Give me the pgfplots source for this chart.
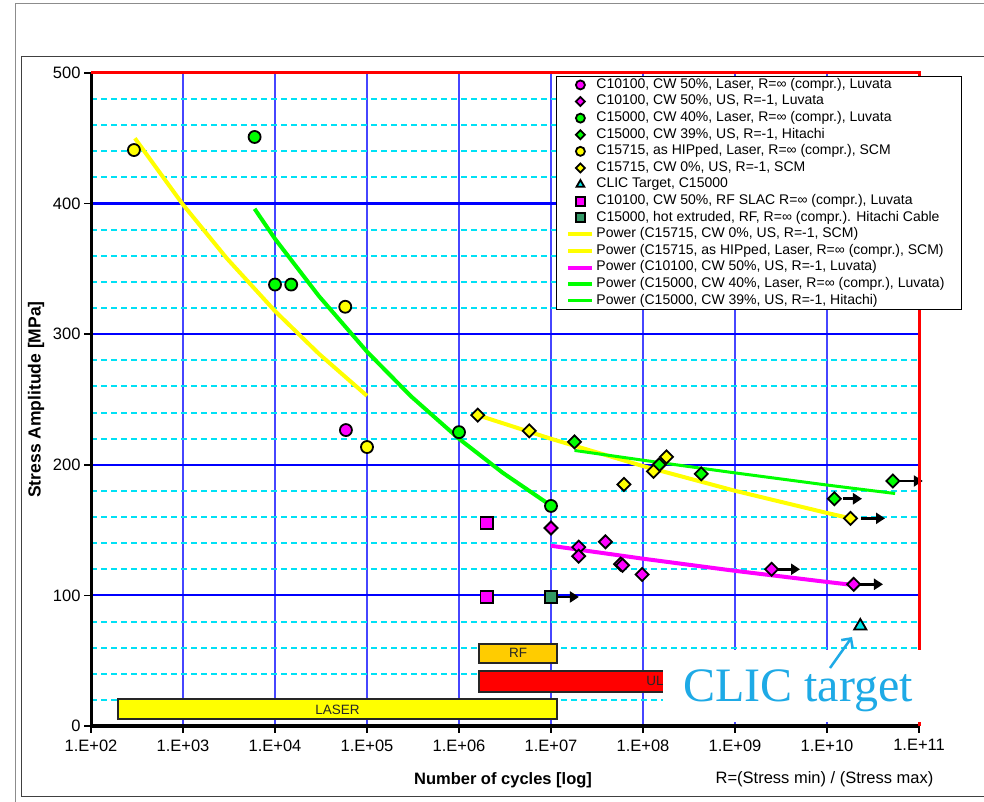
\documentclass[border=0pt]{standalone}
\usepackage{fontspec}
\setmainfont{Liberation Sans}
\newfontfamily\seriffont{Liberation Serif}
\usepackage{pgfplots}
\pgfplotsset{compat=1.18}
\usetikzlibrary{arrows.meta}
\definecolor{mag}{RGB}{255,0,255}
\definecolor{grn}{RGB}{0,255,0}
\definecolor{yel}{RGB}{255,255,0}
\definecolor{tealsq}{RGB}{51,153,102}
\definecolor{cyn}{RGB}{0,230,230}
\definecolor{orng}{RGB}{255,204,0}
\definecolor{sky}{RGB}{30,170,230}
\definecolor{hgrid}{RGB}{0,0,255}
\definecolor{vgrid}{RGB}{70,70,255}
\definecolor{mgrid}{RGB}{0,225,245}
\pgfdeclareplotmark{dmd}{%
  \pgfpathmoveto{\pgfqpoint{0pt}{\pgfplotmarksize}}%
  \pgfpathlineto{\pgfqpoint{\pgfplotmarksize}{0pt}}%
  \pgfpathlineto{\pgfqpoint{0pt}{-\pgfplotmarksize}}%
  \pgfpathlineto{\pgfqpoint{-\pgfplotmarksize}{0pt}}%
  \pgfpathclose\pgfusepathqfillstroke}
\pgfplotsset{
  mk/.style={only marks, mark options={solid, draw=black, line width=1.8pt, fill=#1},
    legend image code/.code={\draw[mark repeat=2,mark phase=2,##1] plot coordinates {(0pt,0pt) (12pt,0pt) (24pt,0pt)};}},
  ln/.style={no marks, line width=#1,
    legend image code/.code={\draw[##1] (0pt,0pt) -- (24pt,0pt);}},
  runout/.style={forget plot, black, line width=2.8pt, -{Triangle[length=9pt,width=11pt]}},
  barbox/.style={forget plot, draw=black!85, line width=1.5pt, fill=#1},
}
\begin{document}
\begin{tikzpicture}
\useasboundingbox (0,0) rectangle (984pt,802pt);
\fill[white] (0,0) rectangle (984pt,802pt);
% frames
\draw[black!45, line width=1pt] (15pt,-2pt) -- (15pt,798pt) -- (990pt,798pt);
\draw[black!75, line width=1pt] (990pt,745pt) -- (21pt,745pt) -- (21pt,5pt) -- (990pt,5pt);
\begin{axis}[
  at={(91pt,76pt)}, anchor=south west, scale only axis,
  width=828pt, height=653pt,
  xmode=log, xmin=1e2, xmax=1e11, ymin=0, ymax=500, clip=false,
  axis line style={draw=none},
  xtick={1e2,1e3,1e4,1e5,1e6,1e7,1e8,1e9,1e10,1e11},
  xticklabels={1.E+02,1.E+03,1.E+04,1.E+05,1.E+06,1.E+07,1.E+08,1.E+09,1.E+10,1.E+11},
  ytick={0,100,200,300,400,500},
  minor xtick={}, minor ytick={},
  extra y ticks={20,40,60,80,120,140,160,180,220,240,260,280,320,340,360,380,420,440,460,480},
  extra y tick labels={},
  extra y tick style={grid=major, major y grid style={mgrid, line width=2pt, dash pattern=on 6pt off 4pt}, major tick length=0pt},
  xmajorgrids, ymajorgrids,
  major x grid style={vgrid, line width=1.2pt},
  major y grid style={hgrid, line width=2.2pt},
  tick pos=left, tick align=outside, major tick length=7pt, minor tick length=0pt,
  every tick/.style={black, line width=1.5pt},
  tick label style={font=\fontsize{16.5}{18}\selectfont},
  xticklabel style={yshift=-3pt},
  /pgf/number format/assume math mode=true,
  xlabel={\bfseries Number of cycles [log]},
  ylabel={\bfseries Stress Amplitude [MPa]},
  every axis x label/.style={at={(rel axis cs:0.4976,-0.0827)}, anchor=center, font=\fontsize{16.5}{18}\selectfont},
  every axis y label/.style={at={(rel axis cs:-0.0664,0.5)}, anchor=center, rotate=90, font=\fontsize{17.5}{19}\selectfont},
  legend cell align=left,
  legend image post style={mark size=4.5pt},
  legend style={at={(rel axis cs:0.5616,0.9954)}, anchor=north west, draw=black, line width=0.8pt,
    fill=white, font=\fontsize{14}{15}\selectfont, inner xsep=10pt, inner ysep=2pt, row sep=3.5pt,
    nodes={inner xsep=2pt, inner ysep=0pt, text height=9.9pt, text depth=3.2pt}, cells={anchor=west}},
]
% bars
\addplot[barbox=yel] coordinates {(196,5.4) (1.16e7,5.4) (1.16e7,20.7) (196,20.7)} -- cycle;
\addplot[barbox=orng] coordinates {(1.65e6,48.2) (1.16e7,48.2) (1.16e7,62.8) (1.65e6,62.8)} -- cycle;
\addplot[barbox=red] coordinates {(1.65e6,26.0) (1.1e10,26.0) (1.1e10,42.1) (1.65e6,42.1)} -- cycle;
\node[font=\fontsize{13.5}{14}\selectfont, text=black!85] at (axis cs:4.77e4,12.6) {LASER};
\node[font=\fontsize{13.5}{14}\selectfont, text=black!85] at (axis cs:4.4e6,55.8) {RF};
\node[font=\fontsize{13.5}{14}\selectfont, text=black!85] at (axis cs:1.35e8,34.3) {UL};
% markers
\addplot[mk=mag, mark=*, mark size=6pt] coordinates {(5.9e4,226.6)};
\addlegendentry{C10100, CW 50\%, Laser, R=∞ (compr.), Luvata}
\addplot[mk=mag, mark=dmd, mark size=6.5pt] coordinates {(1e7,151.6) (2e7,137) (2e7,130) (3.9e7,141) (5.7e7,124) (6e7,123) (9.8e7,116) (2.5e9,120) (1.95e10,108.5)};
\addlegendentry{C10100, CW 50\%, US, R=-1, Luvata}
\addplot[mk=grn, mark=*, mark size=6pt] coordinates {(6.0e3,451) (1e4,338) (1.5e4,338) (1e6,225) (1e7,168.5)};
\addlegendentry{C15000, CW 40\%, Laser, R=∞ (compr.), Luvata}
\addplot[mk=grn, mark=dmd, mark size=6.5pt] coordinates {(1.8e7,217.5) (1.5e8,200) (4.3e8,193) (1.2e10,174) (5.2e10,187.6)};
\addlegendentry{C15000, CW 39\%, US, R=-1, Hitachi}
\addplot[mk=yel, mark=*, mark size=6pt] coordinates {(293,441) (5.8e4,321) (1e5,213.6)};
\addlegendentry{C15715, as HIPped, Laser, R=∞ (compr.), SCM}
\addplot[mk=yel, mark=dmd, mark size=6.5pt] coordinates {(1.6e6,238) (5.8e6,226) (6.2e7,185) (1.3e8,195) (1.8e8,206) (1.8e10,159)};
\addlegendentry{C15715, CW 0\%, US, R=-1, SCM}
\addplot[mk=cyn, mark=triangle*, mark size=7pt] coordinates {(2.3e10,76.6)};
\addlegendentry{CLIC Target, C15000}
\addplot[mk=mag, mark=square*, mark size=6.2pt] coordinates {(2e6,155.4) (2e6,98.8)};
\addlegendentry{C10100, CW 50\%, RF SLAC R=∞ (compr.), Luvata}
\addplot[mk=tealsq, mark=square*, mark size=6.2pt] coordinates {(1e7,98.8)};
\addlegendentry{C15000, hot extruded, RF, R=∞ (compr.). Hitachi Cable}
% run-out arrows
\addplot[runout] coordinates {(1.16e7,98.8) (2.01e7,98.8)};
\addplot[runout] coordinates {(2.93e9,120) (5.09e9,120)};
\addplot[runout] coordinates {(2.23e10,108.5) (4.06e10,108.5)};
\addplot[runout] coordinates {(1.49e10,174) (2.40e10,174)};
\addplot[runout] coordinates {(2.34e10,159) (4.27e10,159)};
\addplot[runout] coordinates {(6.21e10,187.6) (1.10e11,187.6)};
% power fits
\addplot[ln=4pt, yel] coordinates {(1.6e6,238) (1e7,219.9) (1e8,199) (1e9,180.1) (1e10,163.1) (1.8e10,159)};
\addlegendentry{Power (C15715, CW 0\%, US, R=-1, SCM)}
\addplot[ln=4pt, yel] coordinates {(300,450) (1e3,399.2) (3e3,358) (1e4,317.7) (3e4,285) (1e5,252.8)};
\addlegendentry{Power (C15715, as HIPped, Laser, R=∞ (compr.), SCM)\hspace*{5pt}}
\addplot[ln=4pt, mag] coordinates {(1e7,138) (1e8,128.1) (1e9,118.8) (1e10,110.3) (1.9e10,108)};
\addlegendentry{Power (C10100, CW 50\%, US, R=-1, Luvata)}
\addplot[ln=4pt, grn] coordinates {(6e3,396) (1e4,373) (3e4,329.2) (1e5,286.6) (3e5,252.5) (1e6,219.9) (3e6,193.8) (1e7,168.7)};
\addlegendentry{Power (C15000, CW 40\%, Laser, R=∞ (compr.), Luvata)\hspace*{5pt}}
\addplot[ln=3pt, grn] coordinates {(1.8e7,211) (1e8,203.5) (1e9,193.8) (1e10,184.5) (5.5e10,178)};
\addlegendentry{Power (C15000, CW 39\%, US, R=-1, Hitachi)}
% spines
\draw[black, line width=3.5pt] (rel axis cs:0,0) -- (rel axis cs:1,0);
\draw[black, line width=3pt] (rel axis cs:0,0) -- (rel axis cs:0,1);
\draw[red, line width=3pt] (rel axis cs:0,1) -- (rel axis cs:1,1) -- (rel axis cs:1,0);
\end{axis}
\node[font=\fontsize{16.5}{18}\selectfont] at (824.5pt,23pt) {R=(Stress min) / (Stress max)};
\fill[white] (663pt,79.5pt) rectangle (945pt,152pt);
\node[anchor=base west, text=sky, font=\seriffont\fontsize{48}{48}\selectfont, inner sep=0pt] at (683pt,100pt) {CLIC target};
\draw[sky, line width=2.5pt, -{Straight Barb[length=7pt,width=14pt]}] (830pt,134pt) -- (852pt,165pt);
\end{tikzpicture}
\end{document}
